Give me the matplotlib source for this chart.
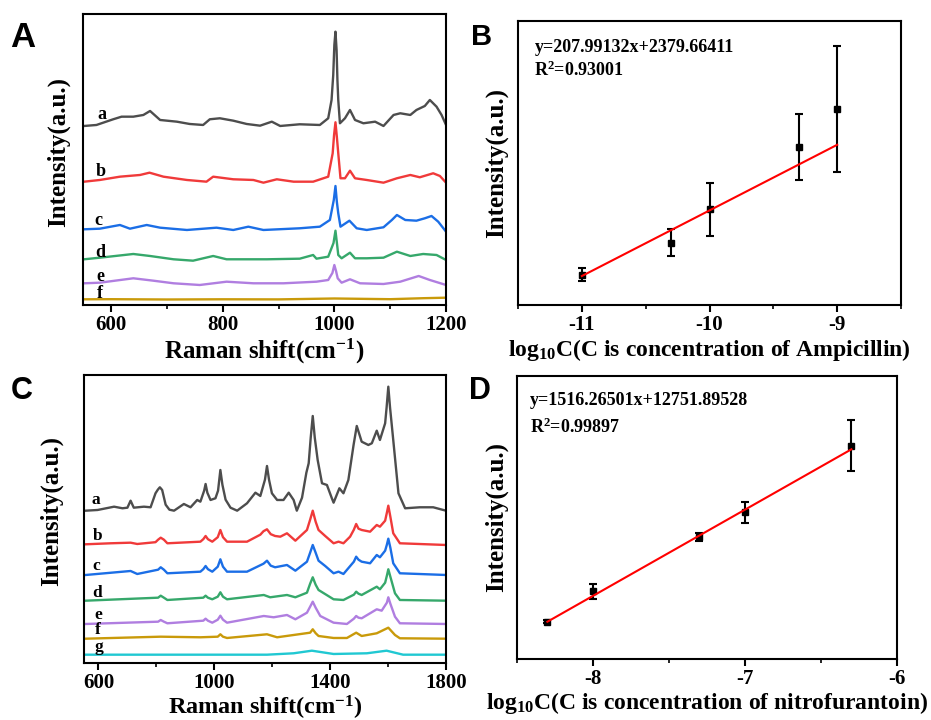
import numpy as np
import matplotlib
matplotlib.use('Agg')
import matplotlib.pyplot as plt
from matplotlib.ticker import MultipleLocator, FixedLocator

plt.rcParams['font.family'] = 'Liberation Serif'
plt.rcParams['font.weight'] = 'bold'
plt.rcParams['axes.labelweight'] = 'bold'
plt.rcParams['mathtext.default'] = 'regular'
plt.rcParams['axes.unicode_minus'] = False

colors = ['#4d4d4d', '#f03a3a', '#1b6ee6', '#36a86b', '#b07ee0', '#c99a0a', '#20c8d2']

# ---- panel A: Raman spectra (ampicillin), offset intensities
A_a_x = [552, 574, 604, 619, 640, 658, 670, 688, 718, 741, 765, 777, 795, 819, 843, 867, 888, 903,
         938, 974, 989, 995, 998, 1000, 1002, 1004, 1005.5, 1007, 1010, 1019, 1028, 1037, 1052, 1073,
         1088, 1106, 1118, 1136, 1147, 1162, 1171, 1183, 1192, 1200]
A_a_y = [179, 180, 185.7, 188.3, 188.3, 190, 194, 185, 183.3, 181, 180, 185.7, 186.7, 184.3, 181, 179.3,
         183.3, 179, 180.7, 180, 186.7, 205, 230, 260, 273.3, 255, 225, 205, 181.7, 186.7, 195, 185,
         181.7, 183.3, 179, 190, 191.7, 190, 195, 199, 205, 198.3, 190, 180]
A_b_x = [552, 580, 616, 652, 669, 694, 736, 771, 783, 819, 855, 873, 897, 927, 962, 989, 997, 999.5,
         1002, 1004.5, 1007, 1011, 1019, 1028, 1037, 1058, 1088, 1112, 1136, 1153, 1177, 1189, 1200]
A_b_y = [123.3, 125, 128.3, 130, 132.3, 128.3, 125, 123.3, 128.3, 125.7, 125, 122.3, 125.7, 123.3, 123.3,
         128.3, 151.7, 170, 182.7, 168, 151.7, 126.7, 126.7, 134.3, 126.7, 125, 122.3, 126.7, 130, 127.7,
         131.7, 129, 122.3]
A_c_x = [552, 580, 616, 634, 664, 688, 736, 789, 819, 846, 873, 938, 974, 992, 999, 1002, 1004.5, 1007,
         1011, 1027, 1040, 1058, 1088, 1103, 1112, 1127, 1147, 1162, 1174, 1186, 1200]
A_c_y = [75.7, 76.3, 80, 76.3, 80, 77.3, 75, 77.3, 75, 78.3, 75, 76.7, 78.3, 85, 105, 119, 103, 91.7,
         78.3, 84.3, 76.7, 75, 77.7, 85, 90, 85, 84.3, 86.7, 89, 83.3, 73.3]
A_d_x = [552, 580, 640, 670, 712, 747, 783, 807, 879, 938, 962, 968, 989, 998.5, 1002, 1005, 1007, 1013,
         1028, 1037, 1058, 1088, 1112, 1136, 1159, 1183, 1200]
A_d_y = [45.7, 47.3, 51, 49, 45.7, 44.3, 49, 45.7, 45.7, 46.3, 50, 46.3, 48.3, 62, 74.3, 60, 50, 46.7,
         52.3, 46.7, 46.7, 47.3, 53.3, 49, 51, 50, 45]
A_e_x = [552, 580, 640, 676, 712, 759, 807, 855, 909, 968, 989, 996.5, 1000, 1003, 1006, 1013, 1028,
         1046, 1088, 1118, 1151, 1171, 1200]
A_e_y = [21.7, 22.3, 26.7, 24.3, 21.7, 20, 23.3, 21.7, 21.7, 23.3, 25, 32, 40, 34, 26.7, 22.3, 25.7,
         21.7, 21, 23.3, 29, 25, 20]
A_f_x = [552, 600, 700, 800, 900, 1000, 1100, 1160, 1200]
A_f_y = [5.7, 5.8, 5.5, 5.7, 5.6, 6.5, 5.8, 6.8, 7.3]
A_labels = ['a', 'b', 'c', 'd', 'e', 'f']
A_label_x = [583, 581, 578, 581, 581, 580]
A_label_y = [185.7, 129, 80, 48.3, 24.3, 7.3]

# ---- panel B: ampicillin calibration
B_x = [-11, -10.3, -10, -9.3, -9]
B_y = [96, 197, 303, 500, 622]
B_err = [21, 43, 85, 105, 200]
B_slope, B_icpt = 207.99132, 2379.66411

# ---- panel C: Raman spectra (nitrofurantoin)
C_a_x = [556, 597, 654, 683, 700, 711, 722, 757, 780, 797, 805, 812, 820, 832, 845, 861, 895, 918, 941,
         952, 965, 970, 976, 987, 1004, 1013, 1021, 1028, 1039, 1056, 1079, 1113, 1142, 1159, 1175, 1182,
         1189, 1199, 1217, 1239, 1257, 1274, 1285, 1303, 1318, 1326, 1333, 1340, 1347, 1357, 1372, 1389,
         1406, 1412, 1432, 1446, 1463, 1481, 1492, 1509, 1532, 1544, 1561, 1572, 1590, 1595, 1601, 1607,
         1618, 1636, 1659, 1710, 1756, 1800]
C_a_y = [152, 152.7, 156, 154.4, 155, 162, 155, 156, 155.4, 169.4, 173, 175.4, 172.7, 158, 153, 152,
         158.7, 155.4, 162.7, 161, 172, 178.7, 170, 162.7, 164.4, 172, 192.7, 178, 163, 155, 152, 159.4,
         170, 166.7, 183, 196.7, 183, 169.4, 162.7, 162.7, 170, 162.7, 152, 165, 190, 199.4, 225, 246.7,
         225, 202.7, 179.4, 177.7, 164.4, 160, 174.4, 169.4, 182.7, 217.7, 236.7, 221, 217.7, 219.4, 232,
         222.7, 239.4, 255, 276, 255, 222.7, 169.4, 154.4, 155.4, 155.4, 152]
C_b_x = [556, 642, 711, 734, 797, 806, 815, 826, 838, 952, 962, 970, 978, 993, 1012, 1021, 1030, 1044,
         1113, 1159, 1170, 1182, 1195, 1210, 1228, 1251, 1280, 1320, 1331, 1340, 1350, 1360, 1383, 1412,
         1429, 1446, 1469, 1482, 1490, 1498, 1509, 1538, 1561, 1572, 1590, 1596, 1601, 1608, 1618, 1641,
         1800]
C_b_y = [118.4, 119.4, 120, 118.7, 120.5, 123, 125, 123, 119.4, 121, 123.5, 126.7, 123.5, 121, 125.5, 132.7,
         125.5, 121, 121, 128, 131.5, 133.4, 128.5, 126.7, 126, 129.4, 122, 132.7, 143, 152, 141, 132.7,
         126.7, 119.4, 121, 119.4, 126, 133, 138.7, 134, 132.7, 131, 137.7, 136, 142, 150, 157, 146,
         129.4, 119.4, 117.7]
C_c_x = [556, 711, 734, 806, 815, 826, 838, 952, 962, 970, 978, 993, 1012, 1021, 1030, 1044, 1113, 1170,
         1182, 1195, 1210, 1251, 1280, 1320, 1331, 1340, 1350, 1360, 1383, 1412, 1429, 1446, 1482, 1490,
         1498, 1509, 1538, 1561, 1572, 1590, 1596, 1601, 1608, 1618, 1641, 1800]
C_c_y = [87.7, 91.7, 88.7, 93, 95.4, 93, 89.4, 91, 93.5, 96.7, 93.5, 91, 96, 103.4, 96, 91, 91, 99,
         102, 97, 95.4, 97.7, 92, 101, 110, 117.7, 110, 102, 96.7, 89.4, 91, 88.7, 101, 106, 103, 101,
         99.4, 107.7, 105.4, 112, 118, 124, 115, 99.4, 89.4, 87.7]
C_d_x = [556, 806, 815, 826, 838, 962, 970, 978, 993, 1012, 1021, 1030, 1044, 1171, 1193, 1251, 1280,
         1320, 1331, 1340, 1350, 1360, 1412, 1446, 1482, 1490, 1498, 1509, 1561, 1572, 1590, 1596, 1601,
         1608, 1624, 1641, 1800]
C_d_y = [62, 65, 67, 65, 62.7, 65, 67, 65, 63.4, 66, 70.4, 66, 63.4, 67.7, 65.4, 67.7, 65.4, 70, 79,
         85.4, 78, 72.7, 63.4, 62.7, 68, 71, 69, 67.7, 76, 73.4, 80, 87, 93.4, 86, 69.4, 62.7, 62]
C_e_x = [556, 806, 815, 826, 838, 962, 970, 978, 993, 1012, 1021, 1030, 1044, 1171, 1205, 1251, 1280,
         1320, 1331, 1340, 1350, 1366, 1412, 1458, 1482, 1490, 1498, 1509, 1561, 1578, 1596, 1601, 1608,
         1624, 1641, 1800]
C_e_y = [38.7, 41, 42.7, 41, 39.4, 42, 44, 42, 40, 43, 47, 43, 40, 46.7, 45.4, 47.7, 43.4, 50, 56, 61,
         55, 46.7, 40, 38.7, 44, 46.7, 45, 44.4, 53.4, 52, 60, 65.4, 59, 46, 39.4, 38.7]
C_f_x = [556, 815, 952, 1012, 1021, 1030, 1044, 1182, 1217, 1331, 1340, 1350, 1360, 1412, 1458, 1490,
         1509, 1561, 1601, 1624, 1641, 1800]
C_f_y = [24, 26, 25.4, 26, 28.4, 26, 24.7, 28.4, 25.4, 30, 33.4, 29.5, 26.7, 24.7, 24.7, 30, 26.7, 29.4,
         35, 27.7, 24.4, 24]
C_g_x = [556, 1182, 1274, 1337, 1412, 1527, 1595, 1652, 1800]
C_g_y = [8, 8, 9.4, 12, 8.7, 9.4, 12, 8, 8]
C_labels = ['a', 'b', 'c', 'd', 'e', 'f', 'g']
C_label_x = [592, 596, 594, 596, 601, 599, 601]
C_label_y = [158.7, 122.7, 92.7, 66, 43.7, 28.5, 12.0]

# ---- panel D: nitrofurantoin calibration
D_x = [-8.3, -8, -7.3, -7, -6.3]
D_y = [167, 707, 1662, 2092, 3263]
D_err = [26, 132, 70, 188, 443]
D_slope, D_icpt = 1516.26501, 12751.89528


def style(ax):
    for s in ax.spines.values():
        s.set_linewidth(1.5)
    ax.tick_params(axis='x', which='major', direction='out', length=5, width=1.5,
                   labelsize=15, pad=2.5)
    ax.tick_params(axis='x', which='minor', direction='out', length=3, width=1.2)
    ax.tick_params(axis='y', which='both', left=False, labelleft=False)
    for t in ax.get_xticklabels():
        t.set_fontweight('bold')


fig = plt.figure(figsize=(9.31, 7.2), dpi=100)

# A
ax = fig.add_axes([0.0892, 0.5764, 0.3899, 0.4042])
A_xs = [A_a_x, A_b_x, A_c_x, A_d_x, A_e_x, A_f_x]
A_ys = [A_a_y, A_b_y, A_c_y, A_d_y, A_e_y, A_f_y]
for xs, ys, c in zip(A_xs, A_ys, colors):
    ax.plot(xs, ys, color=c, lw=1.7, solid_joinstyle='round')
for lab, lx, ly in zip(A_labels, A_label_x, A_label_y):
    ax.text(lx, ly, lab, fontsize=13, ha='center', va='baseline', fontweight='bold')
ax.set_xlim(550, 1200)
ax.set_ylim(0, 291)
ax.xaxis.set_major_locator(MultipleLocator(200))
ax.xaxis.set_minor_locator(MultipleLocator(100))
style(ax)
ax.set_xlabel('Raman shift(cm$^{-1}$)', fontsize=18)
ax.set_ylabel('Intensity(a.u.)', fontsize=18)
ax.xaxis.set_label_coords(0.5, -0.108)
ax.yaxis.set_label_coords(-0.036, 0.526)

# B
ax = fig.add_axes([0.5564, 0.5764, 0.4114, 0.3944])
fx = np.array([B_x[0], B_x[-1]])
ax.plot(fx, B_slope * fx + B_icpt, color='#ff0000', lw=1.5, zorder=3)
ax.errorbar(B_x, B_y, yerr=B_err, fmt='s', color='black', ms=4, elinewidth=1.5,
            capsize=3, capthick=1.5, zorder=2)
ax.set_xlim(-11.5, -8.5)
ax.set_ylim(0, 900)
ax.xaxis.set_major_locator(MultipleLocator(1))
ax.xaxis.set_minor_locator(MultipleLocator(0.5))
style(ax)
ax.text(0.043, 0.892, 'y=207.99132x+2379.66411', transform=ax.transAxes, fontsize=13,
        fontweight='bold')
ax.text(0.043, 0.806, 'R$^2$=0.93001', transform=ax.transAxes, fontsize=13, fontweight='bold')
ax.set_xlabel('log$_{10}$C(C is concentration of Ampicillin)', fontsize=17)
ax.set_ylabel('Intensity(a.u.)', fontsize=18)
ax.xaxis.set_label_coords(0.5, -0.112)
ax.yaxis.set_label_coords(-0.025, 0.5)

# C
ax = fig.add_axes([0.0902, 0.0796, 0.3888, 0.3996])
C_xs = [C_a_x, C_b_x, C_c_x, C_d_x, C_e_x, C_f_x, C_g_x]
C_ys = [C_a_y, C_b_y, C_c_y, C_d_y, C_e_y, C_f_y, C_g_y]
for xs, ys, c in zip(C_xs, C_ys, colors):
    ax.plot(xs, ys, color=c, lw=1.7, solid_joinstyle='round')
for lab, lx, ly in zip(C_labels, C_label_x, C_label_y):
    ax.text(lx, ly, lab, fontsize=12.5, ha='center', va='baseline', fontweight='bold')
ax.set_xlim(550, 1800)
ax.set_ylim(0, 287.7)
ax.xaxis.set_major_locator(FixedLocator([600, 1000, 1400, 1800]))
ax.xaxis.set_minor_locator(FixedLocator([800, 1200, 1600]))
style(ax)
ax.set_xlabel('Raman shift(cm$^{-1}$)', fontsize=17.5)
ax.set_ylabel('Intensity(a.u.)', fontsize=18)
ax.xaxis.set_label_coords(0.5, -0.107)
ax.yaxis.set_label_coords(-0.057, 0.527)

# D
ax = fig.add_axes([0.5553, 0.0847, 0.4082, 0.3935])
fx = np.array([D_x[0], D_x[-1]])
ax.plot(fx, D_slope * fx + D_icpt, color='#ff0000', lw=1.5, zorder=3)
ax.errorbar(D_x, D_y, yerr=D_err, fmt='s', color='black', ms=4, elinewidth=1.5,
            capsize=3, capthick=1.5, zorder=2)
ax.set_xlim(-8.5, -6)
ax.set_ylim(-489, 4494)
ax.xaxis.set_major_locator(MultipleLocator(1))
ax.xaxis.set_minor_locator(MultipleLocator(0.5))
style(ax)
ax.text(0.034, 0.897, 'y=1516.26501x+12751.89528', transform=ax.transAxes, fontsize=13,
        fontweight='bold')
ax.text(0.034, 0.797, 'R$^2$=0.99897', transform=ax.transAxes, fontsize=13, fontweight='bold')
ax.set_xlabel('log$_{10}$C(C is concentration of nitrofurantoin)', fontsize=17)
ax.set_ylabel('Intensity(a.u.)', fontsize=18)
ax.xaxis.set_label_coords(0.5, -0.108)
ax.yaxis.set_label_coords(-0.024, 0.5)

# panel letters
fig.text(0.0107, 0.9351, 'A', family='Liberation Sans', fontsize=25, weight='bold')
fig.text(0.506, 0.9375, 'B', family='Liberation Sans', fontsize=21, weight='bold')
fig.text(0.0115, 0.4458, 'C', family='Liberation Sans', fontsize=22, weight='bold')
fig.text(0.5038, 0.4458, 'D', family='Liberation Sans', fontsize=22, weight='bold')

fig.savefig('out.png', dpi=100)
